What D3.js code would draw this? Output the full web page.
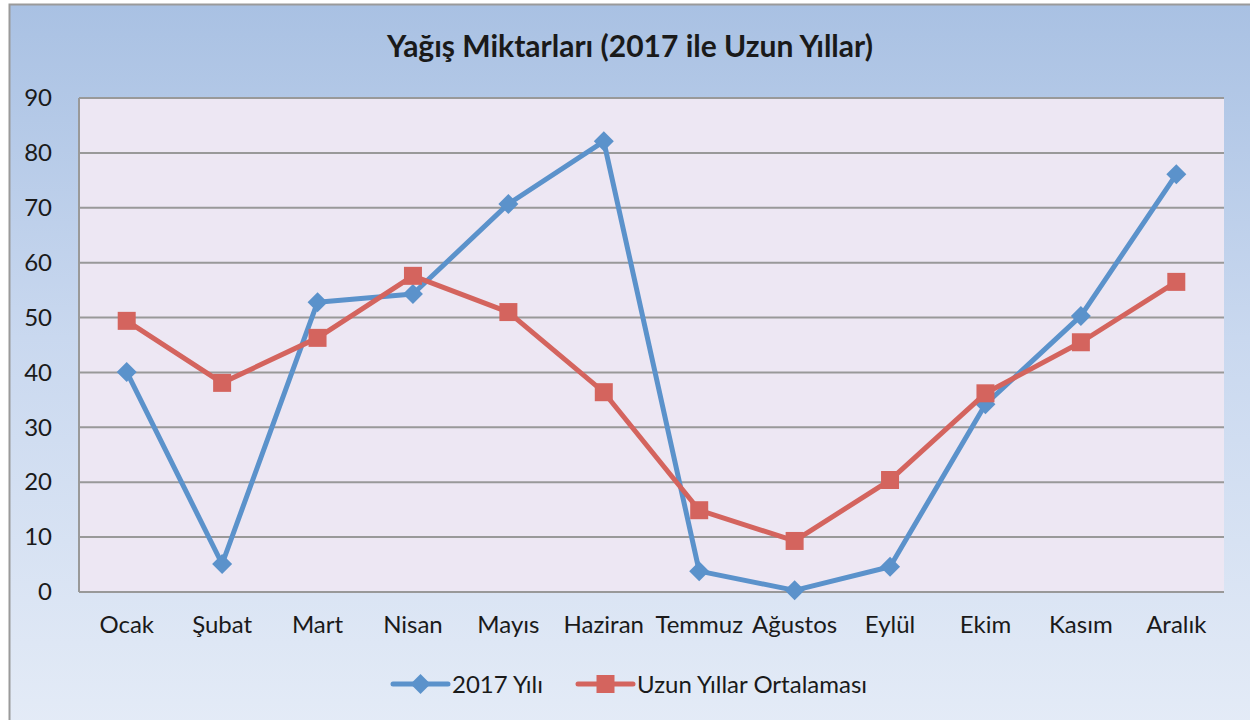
<!DOCTYPE html>
<html>
<head>
<meta charset="utf-8">
<script src="https://cdn.jsdelivr.net/npm/d3@7"></script>
<style>
  html, body { margin: 0; padding: 0; background: #fff; }
  svg { display: block; font-family: Lato, "Open Sans", sans-serif; }
</style>
</head>
<body>
<svg width="1250" height="720"></svg>
<script>
// Months (x categories)
const months = ["Ocak", "Şubat", "Mart", "Nisan", "Mayıs", "Haziran", "Temmuz", "Ağustos", "Eylül", "Ekim", "Kasım", "Aralık"];
// 2017 rainfall
const values2017 = [40.1, 5.1, 52.8, 54.3, 70.7, 82.1, 3.8, 0.3, 4.6, 34.2, 50.3, 76.1];
// long-term average
const valuesAvg = [49.4, 38.1, 46.3, 57.6, 51.0, 36.4, 14.9, 9.3, 20.4, 36.2, 45.5, 56.5];
const yTicks = [0, 10, 20, 30, 40, 50, 60, 70, 80, 90];
const seriesNames = ["2017 Yılı", "Uzun Yıllar Ortalaması"];

const W = 1250, H = 720;
const plot = { left: 79, top: 98, right: 1224, bottom: 592 };
const labelSize = 24;

const svg = d3.select("svg");
const defs = svg.append("defs");

const bgGrad = defs.append("linearGradient")
  .attr("id", "bg").attr("x1", 0).attr("y1", 0).attr("x2", 0).attr("y2", 1);
bgGrad.append("stop").attr("offset", "0%").attr("stop-color", "#a9c1e3");
bgGrad.append("stop").attr("offset", "45%").attr("stop-color", "#c9d8ef");
bgGrad.append("stop").attr("offset", "100%").attr("stop-color", "#e5ecf7");

// outer chart area
svg.append("rect").attr("x", 0).attr("y", 0).attr("width", W).attr("height", H).attr("fill", "#fff");
svg.append("rect")
  .attr("x", 9.5).attr("y", 4.5).attr("width", W + 20).attr("height", H + 20)
  .attr("fill", "url(#bg)")
  .attr("stroke", "#9a9a9a").attr("stroke-width", 2);

// title
svg.append("text")
  .attr("x", 630).attr("y", 57)
  .attr("text-anchor", "middle")
  .attr("font-size", 30).attr("font-weight", "bold")
  .attr("fill", "#1a1a1a")
  .text("Yağış Miktarları (2017 ile Uzun Yıllar)");

const x = d3.scaleBand().domain(months).range([plot.left, plot.right]);
const y = d3.scaleLinear().domain([0, 90]).range([plot.bottom, plot.top]);

// plot background
svg.append("rect")
  .attr("x", plot.left).attr("y", plot.top)
  .attr("width", plot.right - plot.left).attr("height", plot.bottom - plot.top)
  .attr("fill", "#ede7f3");

// gridlines
svg.append("g")
  .selectAll("line")
  .data(yTicks)
  .join("line")
  .attr("x1", plot.left).attr("x2", plot.right)
  .attr("y1", d => y(d)).attr("y2", d => y(d))
  .attr("stroke", "#999").attr("stroke-width", 2);

// left axis line
svg.append("line")
  .attr("x1", plot.left).attr("x2", plot.left)
  .attr("y1", plot.top).attr("y2", plot.bottom)
  .attr("stroke", "#999").attr("stroke-width", 2);

// y tick labels
const yAxis = svg.append("g")
  .attr("transform", `translate(${plot.left},0)`)
  .call(d3.axisLeft(y).tickValues(yTicks).tickSize(0).tickPadding(27));
yAxis.select(".domain").remove();
yAxis.selectAll("text")
  .attr("font-size", labelSize).attr("fill", "#1a1a1a")
  .attr("font-family", "Lato, 'Open Sans', sans-serif");

// x tick labels
const xAxis = svg.append("g")
  .attr("transform", `translate(0,${plot.bottom})`)
  .call(d3.axisBottom(x).tickSize(0).tickPadding(24));
xAxis.select(".domain").remove();
xAxis.selectAll("text")
  .attr("font-size", labelSize).attr("fill", "#1a1a1a")
  .attr("font-family", "Lato, 'Open Sans', sans-serif");

const cx = d => x(d) + x.bandwidth() / 2;
const line = d3.line().x(d => cx(d.m)).y(d => y(d.v));

const blue = "#5b92cb", red = "#d4645e";
const data2017 = months.map((m, i) => ({ m, v: values2017[i] }));
const dataAvg = months.map((m, i) => ({ m, v: valuesAvg[i] }));

function drawSeries(data, color, marker) {
  const g = svg.append("g");
  g.append("path")
    .datum(data)
    .attr("d", line)
    .attr("fill", "none")
    .attr("stroke", color)
    .attr("stroke-width", 5)
    .attr("stroke-linejoin", "round")
    .attr("stroke-linecap", "round");
  g.selectAll("path.mk")
    .data(data)
    .join("path")
    .attr("class", "mk")
    .attr("transform", d => `translate(${cx(d.m)},${y(d.v)})`)
    .attr("d", marker)
    .attr("fill", color);
}

const diamond = "M0,-10L10,0L0,10L-10,0Z";
const square = "M-9,-9H9V9H-9Z";

drawSeries(data2017, blue, diamond);
drawSeries(dataAvg, red, square);

// legend
const legend = svg.append("g");
const legendItems = [
  { name: seriesNames[0], color: blue, marker: diamond, x0: 393 },
  { name: seriesNames[1], color: red, marker: square, x0: 578 }
];
const ly = 684;
legendItems.forEach(it => {
  legend.append("line")
    .attr("x1", it.x0).attr("x2", it.x0 + 55)
    .attr("y1", ly).attr("y2", ly)
    .attr("stroke", it.color).attr("stroke-width", 5)
    .attr("stroke-linecap", "round");
  legend.append("path")
    .attr("transform", `translate(${it.x0 + 27.5},${ly})`)
    .attr("d", it.marker)
    .attr("fill", it.color);
  legend.append("text")
    .attr("x", it.x0 + 59).attr("y", ly + 9)
    .attr("font-size", labelSize).attr("fill", "#1a1a1a")
    .text(it.name);
});
</script>
</body>
</html>
